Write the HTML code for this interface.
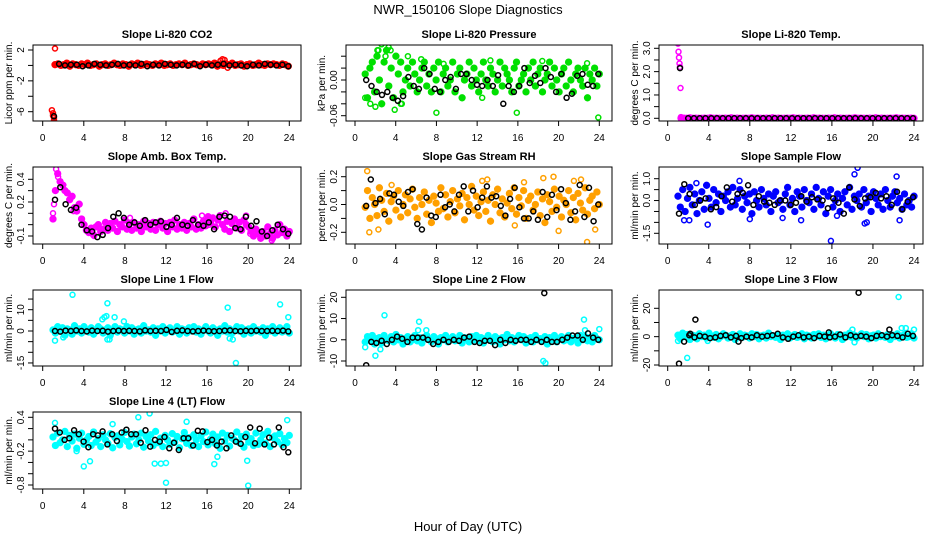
<!DOCTYPE html>
<html><head><meta charset="utf-8"><title>NWR_150106 Slope Diagnostics</title>
<style>
html,body{margin:0;padding:0;background:#fff;}
svg{display:block;font-family:"Liberation Sans",Arial,sans-serif;}
</style></head>
<body>
<svg id="chart" width="936" height="540" viewBox="0 0 936 540" xmlns="http://www.w3.org/2000/svg">
<rect width="936" height="540" fill="#fff"/>
<text x="468" y="14" text-anchor="middle" font-size="13">NWR_150106  Slope Diagnostics</text>
<text x="468" y="531" text-anchor="middle" font-size="13">Hour of Day (UTC)</text>
</svg>
<script>
// ---------- data ----------
const xTicks=[0,4,8,12,16,20,24];
// CO2
const co2Band=[0.1,0.2,0,0.1,0.3,-0.1,0.2,0.1,0,0.2,0.1,0.3,0,0.1,0.2,-0.1,0.1,0.2,0,0.1,0.3,0.1,0,0.2,0.1,-0.1,0.2,0.1,0.3,0,0.1,0.2,0.1,0,0.2,0.1,0.3,0,0.1,0.2,0,0.1,0.2,0.1,0.3,0,0.1,0.2,0.1,0,0.2,0.1,0.2,0.1,0.3,-0.1,0.1,0,0.2,0.1,0.3,0,0.1,0.2,-0.1,0.1,0.2,0,0.1,0.3,0.1,0,0.2,0.1,0.2,0.1,0,0.2,0.1,-0.1];
const co2OutH=[0.9,1.0,1.0,1.1,1.1,1.2,17.3,17.5,17.7,18.0];
const co2OutV=[-5.8,-6.2,-6.5,-6.8,-7.1,2.2,0.6,0.8,0.7,-0.3];
const co2Black=[0.2,0,0.1,0.1,-0.1,0,0.2,0.1,0,0.1,0.2,0,0.1,0,0.2,-0.1,0.1,0,0.2,0.1,0,0.1,0,0.2,-0.1,0.1,0,0.1,0.2,0,0.1,0,-0.1,0.1,0,0.2,0.1,0,0.1,-0.1];
const co2BlackOutH=[1.1];
const co2BlackOutV=[-6.6];
// Pressure
const presBand=[0.01,-0.03,0.02,0.03,-0.02,0.04,0.0,-0.04,0.03,0.05,-0.01,0.02,-0.03,0.04,0.01,0.03,-0.02,0.0,0.02,-0.01,0.03,0.01,-0.02,0.0,0.02,0.03,-0.01,0.01,-0.02,0.02,0.0,0.03,-0.02,0.01,0.02,-0.01,0.0,0.03,-0.02,0.01,0.02,-0.03,0.0,0.01,0.03,-0.01,0.02,0.0,-0.02,0.01,0.03,0.0,-0.01,0.02,0.01,-0.02,0.0,0.03,-0.01,0.02,0.01,0.0,-0.02,0.02,0.03,-0.01,0.0,0.01,-0.02,0.02,0.0,0.03,-0.01,0.01,0.02,-0.02,0.0,0.01,0.03,-0.01,0.02,0.0,-0.02,0.01,0.02,-0.01,0.03,0.0,-0.02,0.01,0.02,0.0,-0.01,0.02,-0.03,0.01,0.0,0.02,-0.01,0.01];
const presOutH=[1.0,1.5,2.0,2.3,2.6,3.0,3.3,3.5,3.9,4.6,5.2,6.5,8.0,8.7,13.3,12.5,15.9,18.4,22.8,23.9,2.2,4.5];
const presOutV=[-0.03,-0.04,-0.045,0.05,0.06,0.04,0.055,0.05,-0.05,-0.04,0.04,0.035,-0.055,0.027,0.033,-0.03,-0.055,0.032,0.028,-0.063,0.05,-0.04];
const presBlack=[0.00,-0.01,-0.02,-0.025,-0.02,-0.03,-0.035,-0.027,0.005,-0.01,-0.015,0.02,0.01,-0.015,-0.02,0.0,0.005,-0.015,0.01,0.01,0.0,-0.008,-0.01,0.0,-0.01,0.008,-0.04,-0.01,-0.02,-0.01,0.02,-0.005,0.007,-0.005,0.02,0.005,-0.02,0.01,-0.03,-0.023,0.007,0.01,-0.008,-0.01,0.01];
const presBlackOutH=[];
const presBlackOutV=[];
// Li-820 Temp
const tempBand=[0,0.01,0,0.02,0,0.01,0,0,0.01,0,0.02,0,0.01,0,0,0.01,0,0.02,0,0.01,0,0,0.01,0,0.02,0,0.01,0,0,0.01,0,0.02,0,0.01,0,0,0.01,0,0.02,0,0.01,0,0,0.01,0,0.02,0,0.01,0,0,0.01,0,0.02,0,0.01,0,0,0.01,0,0.02,0,0.01,0,0,0.01,0,0.02,0,0.01,0,0,0.01,0,0.02,0,0.01,0,0,0.01,0];
const tempOutH=[1.0,1.05,1.1,1.15,1.2,1.25,1.3];
const tempOutV=[3.2,2.85,2.6,2.35,2.2,1.3,0.05];
const tempBlack=[0,0,0,0,0,0,0,0,0,0,0,0,0,0,0,0,0,0,0,0,0,0,0,0,0,0,0,0,0,0,0,0,0,0,0,0,0,0,0,0];
const tempBlackOutH=[1.2];
const tempBlackOutV=[2.15];
// Amb box temp
const boxBand=[0.05,0.3,0.45,0.38,0.35,0.3,0.28,0.22,0.25,0.15,0.12,0.18,0.05,0.0,-0.05,-0.07,-0.03,-0.09,-0.02,0.0,-0.06,-0.04,0.02,-0.05,0.01,-0.03,0.03,-0.06,0.0,-0.02,0.04,-0.04,0.01,-0.05,0.02,-0.03,0.0,-0.06,0.03,-0.02,0.01,-0.04,0.02,-0.05,0.0,0.03,-0.03,0.01,-0.06,0.02,-0.02,0.04,-0.04,0.0,-0.03,0.02,-0.05,0.01,-0.02,0.05,-0.04,0.0,-0.03,0.03,-0.01,0.07,0.02,0.06,-0.02,0.04,0.08,0.0,-0.04,0.03,-0.06,0.01,0.05,-0.03,0.02,-0.05,0.04,0.0,-0.02,-0.06,-0.1,-0.04,-0.08,-0.12,-0.06,-0.1,-0.02,-0.08,-0.12,-0.05,-0.09,0.0,-0.07,-0.04,-0.1,-0.06];
const boxOutH=[1.0,1.1,1.3,1.5,2.0,3.0,5.0,8.5,15.5,16.2,17.8,19.8,20.2,22.3];
const boxOutV=[0.1,0.18,0.49,0.42,0.35,0.12,-0.1,0.06,0.08,0.0,0.1,0.08,-0.08,-0.14];
const boxBlack=[0.22,0.33,0.18,0.13,0.15,0.0,-0.05,-0.06,-0.11,-0.09,-0.03,0.07,0.1,0.06,0.0,0.02,-0.01,0.04,0.0,0.02,0.03,-0.02,0.0,0.06,0.0,-0.01,0.04,0.0,-0.01,0.02,-0.04,0.07,0.08,0.07,-0.03,-0.04,0.07,-0.01,0.03,-0.06,-0.1,-0.05,0.0,-0.04,-0.08];
const boxBlackOutH=[];
const boxBlackOutV=[];
// RH
const rhBand=[-0.02,0.1,-0.1,0.05,0.0,-0.08,0.12,0.03,-0.05,0.08,-0.12,0.02,0.06,-0.04,0.1,-0.09,0.0,0.07,-0.06,0.04,0.11,-0.02,-0.1,0.05,0.0,0.09,-0.07,0.03,-0.13,0.06,0.01,-0.05,0.12,-0.03,0.07,-0.09,0.02,0.1,-0.06,0.04,-0.01,0.08,-0.11,0.05,0.0,0.13,-0.04,0.06,-0.08,0.02,0.09,-0.05,0.03,-0.12,0.07,0.0,0.11,-0.06,0.04,-0.09,0.01,0.08,-0.03,0.12,-0.07,0.05,-0.01,0.1,-0.1,0.03,0.06,-0.04,0.0,0.09,-0.08,0.04,-0.13,0.07,0.02,-0.05,0.11,-0.02,0.06,-0.09,0.03,0.0,0.1,-0.06,0.05,-0.11,0.08,0.01,-0.04,0.12,-0.07,0.03,0.06,-0.03,0.09,0.0];
const rhOutH=[1.2,1.4,2.3,12.5,13.0,16.6,18.5,19.5,20.0,21.5,22.2,22.8,23.6,15.7,3.6];
const rhOutV=[0.24,-0.2,-0.18,0.17,0.18,0.16,0.19,0.2,-0.19,0.17,0.18,-0.27,-0.18,-0.15,0.14];
const rhBlack=[-0.01,0.18,0.01,0.04,-0.07,0.08,0.07,0.02,-0.01,0.09,0.11,-0.14,-0.18,0.05,-0.08,-0.09,0.07,-0.02,0.0,-0.05,0.07,0.13,-0.05,0.1,-0.02,0.05,0.13,0.05,0.06,-0.01,-0.08,0.04,0.12,-0.02,-0.1,-0.1,-0.05,-0.11,0.09,-0.09,0.07,-0.04,0.11,0.01,-0.11,-0.05,0.14,-0.09,0.12,-0.12,0.0];
const rhBlackOutH=[];
const rhBlackOutV=[];
// Sample flow
const sfBand=[0.2,-0.3,0.5,-0.5,0.1,0.6,-0.2,0.3,-0.6,0.0,0.4,-0.4,0.7,0.1,-0.3,0.5,-0.1,0.3,-0.5,0.2,0.0,0.4,-0.3,0.6,-0.2,0.1,0.5,-0.4,0.2,-0.1,0.3,-0.6,0.4,0.0,-0.3,0.5,0.1,-0.2,0.3,-0.5,0.2,0.4,-0.1,0.0,-0.4,0.3,0.6,-0.2,0.1,-0.5,0.4,0.2,-0.3,0.5,0.0,-0.1,0.3,-0.4,0.6,0.1,-0.2,0.4,-0.6,0.2,0.5,-0.3,0.0,0.3,-0.5,0.1,0.4,-0.2,0.6,-0.4,0.2,0.0,0.3,-0.3,0.5,-0.1,0.2,-0.5,0.4,0.1,-0.2,0.3,-0.4,0.5,0.0,-0.3,0.2,0.4,-0.1,0.1,-0.4,0.3,-0.2,0.0,-0.3,0.2];
const sfOutH=[1.6,2.1,3.9,8.0,11.2,13.0,15.9,16.5,18.2,18.5,19.2,19.4,22.3,22.6,2.8,7.0];
const sfOutV=[-0.9,-0.9,-1.1,-0.85,-0.8,-0.9,-1.85,-0.7,1.2,1.5,-1.05,-1.0,1.1,-0.9,0.8,0.9];
const sfBlack=[-0.6,0.75,0.3,-0.2,0.0,0.1,-0.4,-0.3,0.2,0.6,-0.05,0.3,0.35,0.7,-0.2,0.2,-0.05,-0.1,-0.2,0.0,0.0,-0.2,-0.1,0.2,-0.05,0.15,0.05,0.0,-0.35,0.1,-0.1,-0.6,0.6,0.05,-0.25,0.1,0.15,0.35,0.1,0.2,-0.2,0.4,-0.4,-0.05,0.15];
const sfBlackOutH=[];
const sfBlackOutV=[];
// Line 1
const l1Band=[0.5,-1,2,0,1.5,-2,1,0.5,-1.5,2.5,0,1,-1,2,0.5,-0.5,1.5,-1.5,0,2,1,-1,0.5,1.5,-2,0,2,-0.5,1,0.5,-1,2,0,1.5,-1.5,0.5,1,-1,2.5,0,0.5,-0.5,1.5,-2,1,0,2,-1,0.5,1.5,-0.5,0,2,-1.5,1,0.5,-1,1.5,0,2,-0.5,1,-1.5,0.5,2,0,-1,1.5,0.5,-2,1,0,2.5,-0.5,1,-1,0.5,2,0,1.5,-1.5,0.5,1,-1,2,0,0.5,-0.5,1.5,-2,1,0,2,-1,0.5,1.5,-0.5,0,2,-1];
const l1OutH=[1.2,2.0,2.9,6.0,6.2,6.3,6.3,6.5,7.0,7.9,18.0,18.2,18.8,18.5,23.1,23.9,5.8];
const l1OutV=[-4.5,-3,17,6.5,7,13,-4,-4,6.5,4.5,11,-3.5,-15,-4,12.5,6.5,5.5];
const l1Black=[0,-0.3,0.2,0,0.3,0,-0.2,0.2,0,0.1,-0.3,0,0.2,0,0.1,0,-0.2,0.3,0,0.1,0,0.5,-0.4,0.1,0.3,0,-0.2,0,0.2,0,-0.1,0,0.2,0.3,0,-0.1,0.1,0,0.2,0,0,0.1,0,0.2,-0.2];
const l1BlackOutH=[];
const l1BlackOutV=[];
// Line 2
const l2Band=[-1,1.5,0,2,-2,0.5,1,-1.5,2,0,-0.5,1.5,-1,2.5,0,1,-2,0.5,1.5,-1,0,2,-0.5,1,-1.5,0.5,2,0,-1,1.5,0.5,-2,1,0,2,-1,0.5,1.5,-0.5,0,2,-1.5,1,0.5,-1,1.5,0,2,-0.5,1,-1.5,0.5,2,0,-1,1.5,0.5,-2,1,0,2.5,-0.5,1,-1,0.5,2,0,1.5,-1.5,0.5,1,-1,2,0,0.5,-0.5,1.5,-2,1,0,2,-1,0.5,1.5,-0.5,0,2,-1,0.5,1,-1.5,2,0,1.5,-0.5,1,-1,2,0.5,0];
const l2OutH=[1.0,2.0,2.9,6.3,6.2,7.0,18.5,18.7,22.5,22.6,24.0,2.5];
const l2OutV=[-3.5,-7.5,11.5,8.5,4.5,4.5,-10,-11,9.5,4.5,5,-4.5];
const l2Black=[-1,-1.5,-0.5,-2,0,1.5,0.5,-1,1,1,1,0,-2,-1,0,-1,0,-0.5,1,1.5,-1,-1.5,-0.5,-0.5,-2.5,0,-1.5,0,-0.5,0,0,-1,0,-1,0,-1,-1,0,1,2,2,0,3,1,0];
const l2BlackOutH=[1.1,18.6];
const l2BlackOutV=[-12,22];
// Line 3
const l3Band=[1,-1.5,2.5,0,1.5,-2,1,0.5,-1.5,2,0,1,-1,2.5,0.5,-0.5,1.5,-1.5,0,2,1,-1,0.5,1.5,-2,0,2,-0.5,1,0.5,-1,2,0,1.5,-1.5,0.5,1,-1,2.5,0,0.5,-0.5,1.5,-2,1,0,2,-1,0.5,1.5,-0.5,0,2,-1.5,1,0.5,-1,1.5,0,2,-0.5,1,-1.5,0.5,2,0,-1,1.5,0.5,-2,1,0,2.5,-0.5,1,-1,0.5,2,0,1.5,-1.5,0.5,1,-1,2,0,0.5,-0.5,1.5,-2,1,0,2,-1,0.5,1.5,-0.5,0,2,-1];
const l3OutH=[1.0,1.9,18.0,18.2,22.5,22.8,23.2,24.0,3.9];
const l3OutV=[-3,-15,5,-4,28,6,6,5,-3];
const l3Black=[-3.5,1,-0.5,0.5,0,-1,-0.5,0.5,1,-0.5,0.5,-1,0,-0.5,1,0,0.5,1,2,-0.5,-1.5,0,1,-0.5,0,-1,0.5,0,-0.5,0,1.5,-0.5,1,0,0.5,0,-1,0.5,1,0,1,0.5,-0.5,2,0.5];
const l3BlackOutH=[1.1,18.6,2.7,2.2,6.9,15.7,21.6];
const l3BlackOutV=[-19,31,12,2,-3.5,3,5];
// Line 4 (LT)
const l4Band=[0.05,-0.1,0.12,-0.05,0.0,0.15,-0.12,0.08,-0.02,0.1,-0.15,0.03,0.12,-0.08,0.0,0.06,-0.1,0.14,-0.04,0.02,-0.12,0.09,0.0,-0.06,0.11,-0.14,0.04,0.07,-0.09,0.01,0.13,-0.03,-0.11,0.05,0.1,-0.07,0.0,0.12,-0.13,0.06,-0.02,0.09,-0.1,0.15,-0.05,0.03,-0.12,0.08,0.0,-0.08,0.11,-0.04,0.06,-0.14,0.02,0.13,-0.06,0.04,-0.1,0.09,0.0,-0.12,0.07,-0.03,0.14,-0.09,0.01,0.1,-0.07,0.05,-0.15,0.12,-0.02,0.08,-0.11,0.03,0.0,0.14,-0.05,0.06,-0.13,0.1,-0.04,0.02,-0.1,0.12,-0.08,0.0,0.09,-0.06,0.15,-0.12,0.04,0.07,-0.03,0.11,-0.09,0.02,-0.05,0.08];
const l4OutH=[1.2,6.8,9.3,10.4,4.0,4.6,10.9,11.5,12.0,12.0,14.0,16.7,19.9,20.0,23.8,3.3,17.0];
const l4OutV=[0.3,0.28,0.4,0.47,-0.47,-0.38,-0.42,-0.42,-0.41,-0.76,0.32,-0.43,-0.37,-0.81,0.35,-0.2,-0.3];
const l4Black=[0.2,0.13,0.0,0.03,0.17,0.1,-0.03,-0.13,0.1,0.08,0.15,-0.08,0.1,-0.02,0.13,0.18,0.1,0.1,-0.05,0.17,-0.12,0.0,-0.03,0.05,-0.15,-0.05,-0.18,0.03,0.03,-0.1,0.16,0.15,-0.04,0.0,-0.1,-0.03,-0.15,0.08,-0.03,-0.07,0.05,0.22,-0.06,0.2,-0.08,0.04,-0.08,0.22,-0.13,-0.22];
const l4BlackOutH=[];
const l4BlackOutV=[];

// tick values / labels
const yT1=[2,0,-2,-4,-6], yL1=["2","","-2","","-6"];
const yT2=[0.04,0.02,0,-0.02,-0.04,-0.06], yL2=["","","0.00","","","-0.06"];
const yT3=[3,2.5,2,1.5,1,0.5,0], yL3=["3.0","","2.0","","1.0","","0.0"];
const yT4=[0.4,0.3,0.2,0.1,0,-0.1], yL4=["0.4","","0.2","","","-0.1"];
const yT5=[0.2,0.1,0,-0.1,-0.2], yL5=["0.2","","0.0","","-0.2"];
const yT6=[1,0.5,0,-0.5,-1,-1.5], yL6=["1.0","","0.0","","","-1.5"];
const yT7=[15,10,5,0,-5,-10,-15], yL7=["","10","","0","","","-15"];
const yT8=[20,10,0,-10], yL8=["20","10","0","-10"];
const yT9=[20,10,0,-10,-20], yL9=["20","","0","","-20"];
const yT10=[0.4,0.2,0,-0.2,-0.4,-0.6,-0.8], yL10=["0.4","","","-0.2","","","-0.8"];

// ---------- layout ----------
const COLS=[{l:33,r:301,h0:42.7,h24:289.3},{l:346,r:612,h0:355,h24:599.3},{l:659,r:923,h0:667.7,h24:914}];
const ROWS=[{t:45,b:121},{t:167,b:244},{t:290,b:366},{t:412,b:489}];
const panels=[
 {name:"co2",title:"Slope Li-820 CO2",ylab:"Licor ppm per min.",col:0,row:0,color:"#ff0000",band:co2Band,bs:1.2,be:23.9,oh:co2OutH,ov:co2OutV,k:co2Black,ks:1.6,ke:23.9,koh:co2BlackOutH,kov:co2BlackOutV,ya:[2,50,-6,111.7],yt:yT1,yl:yL1},
 {name:"pressure",title:"Slope Li-820 Pressure",ylab:"kPa per min.",col:1,row:0,color:"#00e000",band:presBand,bs:1.0,be:24,oh:presOutH,ov:presOutV,k:presBlack,ks:1.1,ke:23.9,koh:presBlackOutH,kov:presBlackOutV,ya:[0,80,-0.06,115.7],yt:yT2,yl:yL2},
 {name:"li820-temp",title:"Slope Li-820 Temp.",ylab:"degrees C per min.",col:2,row:0,color:"#ff00ff",band:tempBand,bs:1.3,be:24,oh:tempOutH,ov:tempOutV,k:tempBlack,ks:2.0,ke:23.9,koh:tempBlackOutH,kov:tempBlackOutV,ya:[3,48.3,0,118.3],yt:yT3,yl:yL3},
 {name:"amb-box-temp",title:"Slope Amb. Box Temp.",ylab:"degrees C per min.",col:0,row:1,color:"#ff00ff",band:boxBand,bs:1.0,be:24,oh:boxOutH,ov:boxOutV,k:boxBlack,ks:1.2,ke:23.9,koh:boxBlackOutH,kov:boxBlackOutV,ya:[0.4,179.3,-0.1,236],yt:yT4,yl:yL4},
 {name:"gas-stream-rh",title:"Slope Gas Stream RH",ylab:"percent per min.",col:1,row:1,color:"#ffa000",band:rhBand,bs:1.0,be:24,oh:rhOutH,ov:rhOutV,k:rhBlack,ks:1.1,ke:23.9,koh:rhBlackOutH,kov:rhBlackOutV,ya:[0.2,176.7,-0.2,232.3],yt:yT5,yl:yL5},
 {name:"sample-flow",title:"Slope Sample Flow",ylab:"ml/min per min.",col:2,row:1,color:"#0000ff",band:sfBand,bs:1.0,be:24,oh:sfOutH,ov:sfOutV,k:sfBlack,ks:1.1,ke:23.9,koh:sfBlackOutH,kov:sfBlackOutV,ya:[1,178.7,-1.5,233.3],yt:yT6,yl:yL6},
 {name:"line1-flow",title:"Slope Line 1 Flow",ylab:"ml/min per min.",col:0,row:2,color:"#00ffff",band:l1Band,bs:1.0,be:24,oh:l1OutH,ov:l1OutV,k:l1Black,ks:1.2,ke:23.9,koh:l1BlackOutH,kov:l1BlackOutV,ya:[0,331,10,309.7],yt:yT7,yl:yL7},
 {name:"line2-flow",title:"Slope Line 2 Flow",ylab:"ml/min per min.",col:1,row:2,color:"#00ffff",band:l2Band,bs:1.0,be:24,oh:l2OutH,ov:l2OutV,k:l2Black,ks:1.6,ke:23.9,koh:l2BlackOutH,kov:l2BlackOutV,ya:[20,297.3,-10,361],yt:yT8,yl:yL8},
 {name:"line3-flow",title:"Slope Line 3 Flow",ylab:"ml/min per min.",col:2,row:2,color:"#00ffff",band:l3Band,bs:1.0,be:24,oh:l3OutH,ov:l3OutV,k:l3Black,ks:1.6,ke:23.9,koh:l3BlackOutH,kov:l3BlackOutV,ya:[20,308.3,-20,365],yt:yT9,yl:yL9},
 {name:"line4-lt-flow",title:"Slope Line 4 (LT) Flow",ylab:"ml/min per min.",col:0,row:3,color:"#00ffff",band:l4Band,bs:1.0,be:24,oh:l4OutH,ov:l4OutV,k:l4Black,ks:1.2,ke:23.9,koh:l4BlackOutH,kov:l4BlackOutV,ya:[0.4,417.3,-0.8,485],yt:yT10,yl:yL10}
];
const NS="http://www.w3.org/2000/svg";
const svg=document.getElementById('chart');
function mk(tag,attrs,parent){const e=document.createElementNS(NS,tag);for(const k in attrs)e.setAttribute(k,attrs[k]);(parent||svg).appendChild(e);return e;}
function lin(s,e,n,i){return n>1?s+i*(e-s)/(n-1):s;}
panels.forEach(p=>{
 const C=COLS[p.col],R=ROWS[p.row];
 const g=mk('g',{});
 
 
 const xs=h=>C.h0+(h/24)*(C.h24-C.h0);
 const ys=v=>p.ya[1]+(v-p.ya[0])*(p.ya[3]-p.ya[1])/(p.ya[2]-p.ya[0]);
 const clip='clip-'+p.name;
 const cp=mk('clipPath',{id:clip},g);mk('rect',{x:C.l,y:R.t,width:C.r-C.l,height:R.b-R.t},cp);
 const pts=mk('g',{'clip-path':'url(#'+clip+')'},g);
 
 
 const dot=(h,v,col,fill,r)=>{const c=mk('circle',{cx:xs(h).toFixed(1),cy:ys(v).toFixed(1),r:r,fill:fill,stroke:col,'stroke-width':1.5},pts);
  
  };
 p.band.forEach((v,i)=>dot(lin(p.bs,p.be,p.band.length,i),v,p.color,p.color,2.9));
 p.oh.forEach((h,i)=>dot(h,p.ov[i],p.color,'none',2.5));
 p.k.forEach((v,i)=>dot(lin(p.ks,p.ke,p.k.length,i),v,'#000','none',2.5));
 p.koh.forEach((h,i)=>dot(h,p.kov[i],'#000','none',2.5));
 const box=mk('rect',{x:C.l,y:R.t,width:C.r-C.l,height:R.b-R.t,fill:'none',stroke:'#000','stroke-width':1},g);
 
 
 const tt=mk('text',{x:(C.l+C.r)/2,y:R.t-7,'text-anchor':'middle','font-size':11,'font-weight':'bold'},g);
 tt.textContent=p.title;
 
 
 xTicks.forEach(h=>{const x=xs(h);mk('line',{x1:x,x2:x,y1:R.b,y2:R.b+5,stroke:'#000'},g);
  const t=mk('text',{x:x,y:R.b+20,'text-anchor':'middle','font-size':10},g);t.textContent=h;
  
  });
 p.yt.forEach((v,i)=>{const y=ys(v);mk('line',{x1:C.l-5,x2:C.l,y1:y,y2:y,stroke:'#000'},g);
  if(p.yl[i]){const t=mk('text',{x:0,y:0,'text-anchor':'middle','font-size':10,transform:'translate('+(C.l-9)+','+y+') rotate(-90)'},g);t.textContent=p.yl[i];
  
  }});
 const yl=mk('text',{x:0,y:0,'text-anchor':'middle','font-size':10,transform:'translate('+(C.l-21)+','+((R.t+R.b)/2)+') rotate(-90)'},g);
 yl.textContent=p.ylab;
 
 
});
</script>
</body></html>
